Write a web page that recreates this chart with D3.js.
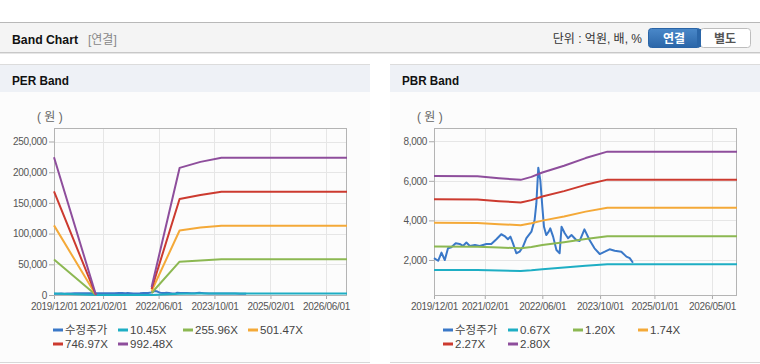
<!DOCTYPE html>
<html>
<head>
<meta charset="utf-8">
<script src="https://cdn.jsdelivr.net/npm/d3@7"></script>
<style>
  body { margin: 0; background: #fff; }
  svg { display: block; font-family: "Liberation Sans", "Noto Sans CJK KR", sans-serif; }
</style>
</head>
<body>
<div id="chart"></div>
<script>
// legend labels
const perLabels = ['수정주가', '10.45X', '255.96X', '501.47X', '746.97X', '992.48X']
const pbrLabels = ['수정주가', '0.67X', '1.20X', '1.74X', '2.27X', '2.80X']
const seriesColors = ['#3a78c8', '#1eaec4', '#8cb852', '#f4a938', '#cc3a2f', '#8e4e9c']

// axis ticks
const perXTicks = ['2019/12/01', '2021/02/01', '2022/06/01', '2023/10/01', '2025/02/01', '2026/06/01']
const pbrXTicks = ['2019/12/01', '2021/02/01', '2022/06/01', '2023/10/01', '2025/01/01', '2026/05/01']
const perYTicks = [0, 50000, 100000, 150000, 200000, 250000]
const pbrYTicks = [2000, 4000, 6000, 8000]

// 수정주가
const priceDates = [
  '2019-12-01', '2020-01-05', '2020-02-02', '2020-03-01', '2020-03-28', '2020-04-25', '2020-06-01',
  '2020-07-04', '2020-08-01', '2020-08-30', '2020-09-28', '2020-11-10', '2020-12-20', '2021-02-15',
  '2021-03-28', '2021-05-10', '2021-06-20', '2021-07-18', '2021-08-15', '2021-09-05', '2021-09-27',
  '2021-10-25', '2021-11-22', '2021-12-20', '2022-01-18', '2022-03-01', '2022-03-28', '2022-04-12',
  '2022-04-28', '2022-05-15', '2022-06-01', '2022-06-15', '2022-07-04', '2022-07-25', '2022-08-07',
  '2022-08-31', '2022-09-28', '2022-10-25', '2022-11-10', '2022-12-07', '2023-01-04', '2023-02-02',
  '2023-03-14', '2023-04-12', '2023-05-22', '2023-07-04', '2023-08-15', '2023-09-28', '2023-11-10',
  '2023-12-20', '2024-02-01', '2024-03-28', '2024-05-10', '2024-06-07', '2024-07-04'
]
const priceValues = [
  2090, 1960, 2370, 2000, 2590, 2640, 2840,
  2810, 2710, 2880, 2710, 2760, 2710, 2810,
  2810, 3050, 3300, 3210, 3050, 3180, 2840,
  2340, 2420, 2670, 3100, 3430, 4020, 4870,
  6660, 6040, 4700, 3680, 3260, 3430, 3600,
  3180, 2500, 2340, 3680, 3350, 3100, 3260,
  3010, 2960, 3550, 3010, 2590, 2300, 2420,
  2540, 2470, 2420, 2170, 2090, 1860
]

// PER band
const perBandDates = ['2019-12-01', '2020-12-01', '2021-06-01', '2021-12-01', '2022-04-01', '2022-12-01', '2023-06-01', '2023-12-01', '2026-12-01']
const per1045 = [2360, 0, 0, 0, 130, 2170, 2270, 2360, 2360]
const per25596 = [57900, 0, null, null, 3300, 54300, 56300, 58100, 58100]
const per50147 = [113400, 0, null, null, 6500, 105000, 109800, 112900, 112900]
const per74697 = [168900, 0, null, null, 9700, 156300, 163000, 168200, 168200]
const per99248 = [224300, 0, null, null, 12900, 207000, 216800, 223600, 223600]

// PBR band
const pbrBandDates = ['2019-12-01', '2020-12-01', '2021-06-01', '2021-12-01', '2022-03-01', '2022-06-01', '2022-12-01', '2023-06-01', '2023-12-01', '2026-11-28']
const pbr067 = [1496, 1491, 1467, 1448, 1484, 1536, 1618, 1711, 1789, 1789]
const pbr120 = [2679, 2670, 2627, 2593, 2657, 2752, 2897, 3064, 3204, 3204]
const pbr174 = [3884, 3871, 3809, 3759, 3853, 3989, 4201, 4443, 4645, 4645]
const pbr227 = [5067, 5051, 4970, 4905, 5026, 5205, 5480, 5797, 6060, 6060]
const pbr280 = [6250, 6230, 6130, 6050, 6200, 6420, 6760, 7150, 7475, 7475]

const W = 760, H = 364
const parse = d3.timeParse('%Y-%m-%d')
const parseTick = d3.timeParse('%Y/%m/%d')

const svg = d3.select('#chart').append('svg').attr('width', W).attr('height', H)

const defs = svg.append('defs')
const grad = defs.append('linearGradient').attr('id', 'btnBlue').attr('x1', 0).attr('x2', 0).attr('y1', 0).attr('y2', 1)
grad.append('stop').attr('offset', '0%').attr('stop-color', '#4a88c9')
grad.append('stop').attr('offset', '100%').attr('stop-color', '#2b66a8')

// top header bar
svg.append('rect').attr('x', 0).attr('y', 22).attr('width', W).attr('height', 31).attr('fill', '#f4f4f4')
svg.append('line').attr('x1', 0).attr('x2', W).attr('y1', 22.5).attr('y2', 22.5).attr('stroke', '#b8b8b8')
svg.append('line').attr('x1', 0).attr('x2', W).attr('y1', 52.5).attr('y2', 52.5).attr('stroke', '#c8c8c8')
svg.append('line').attr('x1', 0).attr('x2', W).attr('y1', 53.5).attr('y2', 53.5).attr('stroke', '#e6e6e6')
svg.append('text').attr('x', 12).attr('y', 44).attr('font-size', 13.5).attr('font-weight', 'bold')
  .attr('textLength', 66).attr('lengthAdjust', 'spacingAndGlyphs')
  .attr('fill', '#111').text('Band Chart')
svg.append('text').attr('x', 88).attr('y', 44).attr('font-size', 12).attr('fill', '#888').text('[연결]')
svg.append('text').attr('x', 642).attr('y', 43).attr('font-size', 12).attr('fill', '#333')
  .attr('text-anchor', 'end').text('단위 : 억원, 배, %')

svg.append('rect').attr('x', 648.5).attr('y', 28.5).attr('width', 52).attr('height', 19).attr('rx', 3)
  .attr('fill', 'url(#btnBlue)').attr('stroke', '#2a64a6')
svg.append('rect').attr('x', 700.5).attr('y', 28.5).attr('width', 50).attr('height', 19).attr('rx', 3)
  .attr('fill', '#fff').attr('stroke', '#bdbdbd')
svg.append('rect').attr('x', 697).attr('y', 29).attr('width', 4).attr('height', 18).attr('fill', '#2b66a8')
svg.append('text').attr('x', 674).attr('y', 42.5).attr('font-size', 12).attr('font-weight', 'bold')
  .attr('fill', '#fff').attr('text-anchor', 'middle').text('연결')
svg.append('text').attr('x', 725).attr('y', 42.5).attr('font-size', 12).attr('font-weight', 'bold')
  .attr('fill', '#555').attr('text-anchor', 'middle').text('별도')

function toSeries(dates, values) {
  return dates.map((d, i) => ({ date: parse(d), value: values[i] }))
}

function drawBand({ px, title, plot, xDomain, yDomain, xTicks, yTicks, series, labels, legendX }) {
  const panel = svg.append('g').attr('transform', `translate(${px},0)`)
  panel.append('rect').attr('x', 0).attr('y', 64).attr('width', 370).attr('height', 298).attr('fill', '#fcfcfc')
  panel.append('rect').attr('x', 0).attr('y', 64).attr('width', 370).attr('height', 28).attr('fill', '#eef1f6')
  panel.append('line').attr('x1', 0).attr('x2', 370).attr('y1', 64.5).attr('y2', 64.5).attr('stroke', '#dcdcdc')
  panel.append('line').attr('x1', 0).attr('x2', 370).attr('y1', 362.5).attr('y2', 362.5).attr('stroke', '#d8d8d8')
  panel.append('text').attr('x', 12).attr('y', 85).attr('font-size', 13).attr('font-weight', 'bold')
    .attr('textLength', 57).attr('lengthAdjust', 'spacingAndGlyphs')
    .attr('fill', '#111').text(title)

  const x = d3.scaleTime().domain(xDomain.map(parse)).range([plot.left, plot.right])
  const y = d3.scaleLinear().domain(yDomain).range([plot.bottom, plot.top])

  panel.append('text').attr('x', plot.left - 17).attr('y', 121).attr('font-size', 12)
    .attr('fill', '#666').text('( 원 )')

  // grid
  const grid = panel.append('g')
  grid.selectAll('.vg').data(xTicks).join('line')
    .attr('x1', d => Math.round(x(parseTick(d))) + 0.5).attr('x2', d => Math.round(x(parseTick(d))) + 0.5)
    .attr('y1', plot.top).attr('y2', plot.bottom).attr('stroke', '#e6e6e6')
  grid.selectAll('.hg').data(yTicks).join('line')
    .attr('x1', plot.left).attr('x2', plot.right)
    .attr('y1', d => Math.round(y(d)) + 0.5).attr('y2', d => Math.round(y(d)) + 0.5).attr('stroke', '#e6e6e6')

  // axes
  const yAxis = d3.axisLeft(y).tickValues(yTicks).tickFormat(d3.format(',')).tickSize(5).tickPadding(2)
  panel.append('g').attr('transform', `translate(${plot.left},0)`).call(yAxis)
    .call(g => g.select('.domain').remove())
    .call(g => g.selectAll('.tick line').attr('stroke', '#aaa'))
    .call(g => g.selectAll('.tick text').attr('fill', '#555').attr('font-size', 10).attr('letter-spacing', -0.3))

  const xAxis = d3.axisBottom(x).tickValues(xTicks.map(parseTick)).tickFormat(d3.timeFormat('%Y/%m/%d'))
    .tickSize(4).tickPadding(4)
  panel.append('g').attr('transform', `translate(0,${plot.bottom})`).call(xAxis)
    .call(g => g.select('.domain').remove())
    .call(g => g.selectAll('.tick line').attr('stroke', '#aaa'))
    .call(g => g.selectAll('.tick text').attr('fill', '#555').attr('font-size', 10).attr('letter-spacing', -0.3))

  panel.append('rect').attr('x', plot.left + 0.5).attr('y', plot.top + 0.5)
    .attr('width', plot.right - plot.left - 1).attr('height', plot.bottom - plot.top)
    .attr('fill', 'none').attr('stroke', '#b4b4b4')

  // lines
  const line = d3.line()
    .defined(d => d.value != null)
    .x(d => x(d.date))
    .y(d => y(d.value))

  const plotG = panel.append('g')
  plotG.selectAll('path').data(series).join('path')
    .attr('d', d => line(d))
    .attr('fill', 'none')
    .attr('stroke', (d, i) => seriesColors[i])
    .attr('stroke-width', 2)
    .attr('stroke-linejoin', 'round')

  // legend
  const legend = panel.append('g')
  labels.forEach((label, i) => {
    const lx = legendX + (i % 4) * 65
    const ly = 330 + Math.floor(i / 4) * 14
    legend.append('rect').attr('x', lx).attr('y', ly - 1.5).attr('width', 10).attr('height', 3)
      .attr('fill', seriesColors[i])
    legend.append('text').attr('x', lx + 12).attr('y', ly + 4).attr('font-size', 11.5)
      .attr('fill', '#444').text(label)
  })
}

const price = toSeries(priceDates, priceValues)

drawBand({
  px: 0,
  title: 'PER Band',
  plot: { left: 54, right: 347, top: 128, bottom: 295 },
  xDomain: ['2019-12-01', '2026-12-01'],
  yDomain: [0, 272000],
  xTicks: perXTicks,
  yTicks: perYTicks,
  series: [price, ...[per1045, per25596, per50147, per74697, per99248].map(v => toSeries(perBandDates, v))],
  labels: perLabels,
  legendX: 53,
})

drawBand({
  px: 390,
  title: 'PBR Band',
  plot: { left: 44, right: 347, top: 128, bottom: 295 },
  xDomain: ['2019-12-01', '2026-11-28'],
  yDomain: [230, 8670],
  xTicks: pbrXTicks,
  yTicks: pbrYTicks,
  series: [price, ...[pbr067, pbr120, pbr174, pbr227, pbr280].map(v => toSeries(pbrBandDates, v))],
  labels: pbrLabels,
  legendX: 53,
})
</script>
</body>
</html>
